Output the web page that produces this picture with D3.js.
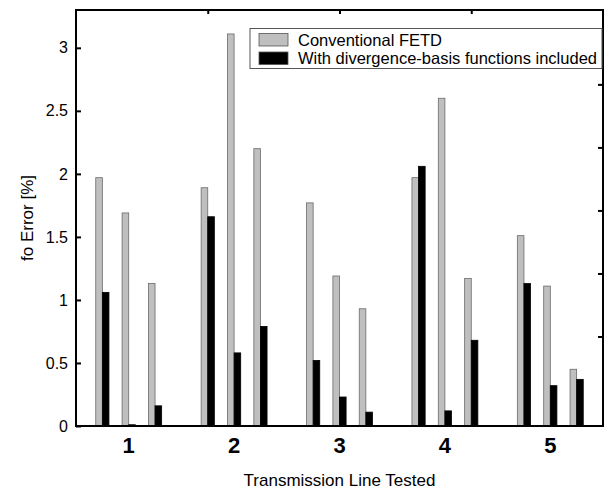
<!DOCTYPE html>
<html>
<head>
<meta charset="utf-8">
<script src="https://cdnjs.cloudflare.com/ajax/libs/d3/7.8.5/d3.min.js"></script>
<style>
  * { margin: 0; padding: 0; }
  body { background: #fff; }
  svg { font-family: "Liberation Sans", Arial, sans-serif; }
</style>
</head>
<body>
<script>
    // transmission lines tested, 3 cases each
    var lines = ["1", "2", "3", "4", "5"];
    var cases = [0, 1, 2];
    var conventional = [
        [1.97, 1.69, 1.13],
        [1.89, 3.11, 2.20],
        [1.77, 1.19, 0.93],
        [1.97, 2.60, 1.17],
        [1.51, 1.11, 0.45]
    ];
    var divergence = [
        [1.06, 0.01, 0.16],
        [1.66, 0.58, 0.79],
        [0.52, 0.23, 0.11],
        [2.06, 0.12, 0.68],
        [1.13, 0.32, 0.37]
    ];
    var seriesNames = ["Conventional FETD", "With divergence-basis functions included"];
    var yTicks = [0, 0.5, 1, 1.5, 2, 2.5, 3];
    var rightTicks = [0.71, 1.21, 1.71, 2.21, 2.71]; // stray ticks on the right frame
    var topTicks = [1, 2, 3];

    var width = 607, height = 489;
    var mLeft = 76, mRight = 603, mTop = 10, mBottom = 426;

    var svg = d3.select("body").append("svg")
        .attr("width", width)
        .attr("height", height);

    var y = d3.scaleLinear().domain([0, 3.3]).range([mBottom, mTop]);
    var x0 = d3.scaleBand().domain(lines).range([mLeft, mRight]);
    var bw = x0.bandwidth();
    var x1 = d3.scalePoint().domain(cases).range([bw * 0.25, bw * 0.75]);
    var x2 = d3.scaleBand().domain(["conv", "div"]).range([-6.6, 6.6]);
    var color = d3.scaleOrdinal().domain(["conv", "div"]).range(["#bfbfbf", "#000"]);

    // flatten into bars
    var bars = [];
    lines.forEach(function(l, i) {
        cases.forEach(function(c) {
            bars.push({line: l, c: c, s: "conv", v: conventional[i][c]});
            bars.push({line: l, c: c, s: "div", v: divergence[i][c]});
        });
    });

    svg.selectAll(".bar")
        .data(bars)
        .enter().append("rect")
        .attr("class", "bar")
        .attr("x", function(d) { return x0(d.line) + x1(d.c) + x2(d.s); })
        .attr("width", x2.bandwidth())
        .attr("y", function(d) { return y(d.v); })
        .attr("height", function(d) { return mBottom - y(d.v); })
        .style("fill", function(d) { return color(d.s); })
        .style("stroke", function(d) { return d.s == "conv" ? "#6a6a6a" : "#000"; })
        .style("stroke-width", 0.8);

    // left axis, ticks inside
    var yAxis = d3.axisLeft(y).tickValues(yTicks).tickSize(-5).tickPadding(8)
        .tickFormat(function(d) { return String(d); });
    var gy = svg.append("g")
        .attr("transform", "translate(" + mLeft + ",0)")
        .call(yAxis);
    gy.select(".domain").remove();
    gy.selectAll("line").attr("stroke-width", 2);
    gy.selectAll("text").style("font-size", "16px").attr("fill", "#000");

    // right side stray ticks
    var gr = svg.append("g")
        .attr("transform", "translate(" + mRight + ",0)")
        .call(d3.axisRight(y).tickValues(rightTicks).tickSize(-5).tickFormat(""));
    gr.select(".domain").remove();
    gr.selectAll("line").attr("stroke-width", 2);

    // top ticks
    var xt = d3.scaleLinear().domain([0, 4]).range([mLeft, mRight]);
    var gt = svg.append("g")
        .attr("transform", "translate(0," + mTop + ")")
        .call(d3.axisTop(xt).tickValues(topTicks).tickSize(-4).tickFormat(""));
    gt.select(".domain").remove();
    gt.selectAll("line").attr("stroke-width", 2);

    // bottom group labels
    var gx = svg.append("g")
        .attr("transform", "translate(0," + mBottom + ")")
        .call(d3.axisBottom(x0).tickSize(0).tickPadding(11));
    gx.select(".domain").remove();
    gx.selectAll("text")
        .style("font-size", "22px")
        .style("font-weight", "bold")
        .attr("fill", "#000");

    // frame
    svg.append("rect")
        .attr("x", mLeft).attr("y", mTop)
        .attr("width", mRight - mLeft).attr("height", mBottom - mTop)
        .style("fill", "none")
        .style("stroke", "#000")
        .style("stroke-width", 2);

    // axis titles
    svg.append("text")
        .attr("transform", "translate(27," + (mTop + mBottom) / 2 + ") rotate(-90)")
        .attr("text-anchor", "middle")
        .attr("dy", "0.35em")
        .style("font-size", "17px")
        .text("fo Error [%]");

    svg.append("text")
        .attr("x", (mLeft + mRight) / 2)
        .attr("y", 486)
        .attr("text-anchor", "middle")
        .style("font-size", "17px")
        .text("Transmission Line Tested");

    // legend
    var lg = svg.append("g").attr("class", "legend");
    lg.append("rect")
        .attr("x", 250).attr("y", 28.5)
        .attr("width", 352).attr("height", 40)
        .style("fill", "#fff")
        .style("stroke", "#555")
        .style("stroke-width", 1);

    var items = lg.selectAll(".item")
        .data(["conv", "div"])
        .enter().append("g")
        .attr("class", "item")
        .attr("transform", function(d, i) { return "translate(259," + (33.5 + i * 18.5) + ")"; });

    items.append("rect")
        .attr("width", 29).attr("height", 12.5)
        .style("fill", color)
        .style("stroke", "#555")
        .style("stroke-width", 0.8);

    items.append("text")
        .attr("x", 39)
        .attr("y", 6.5)
        .attr("dy", "0.35em")
        .style("font-size", "16.5px")
        .text(function(d, i) { return seriesNames[i]; });
</script>
</body>
</html>
